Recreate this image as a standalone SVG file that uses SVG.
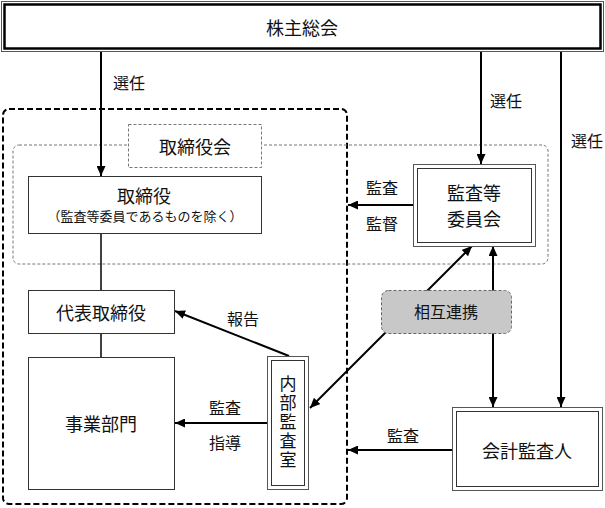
<svg xmlns="http://www.w3.org/2000/svg" width="605" height="508" viewBox="0 0 605 508">
<style>
text{font-family:"Noto Sans CJK JP","Noto Sans CJK SC",sans-serif;fill:#111;text-anchor:middle;dominant-baseline:central}
.box{fill:#fff;stroke:#333;stroke-width:1}
.outer{fill:#fff;stroke:#555;stroke-width:1}
.inner{fill:none;stroke:#333;stroke-width:1}
.conn{fill:none;stroke:#000;stroke-width:2}
.thin{fill:none;stroke:#000;stroke-width:1.5}
.lbl{font-size:16px}
.big{font-size:18px}
</style>
<defs>
<marker id="ah" markerUnits="userSpaceOnUse" markerWidth="10" markerHeight="9" refX="10" refY="4.5" orient="auto-start-reverse">
<path d="M0,0 L10,4.5 L0,9 z" fill="#000"/>
</marker>
</defs>

<g id="containers">
<rect id="group-board" x="3" y="109" width="344" height="395" rx="6" fill="none" stroke="#000" stroke-width="2" stroke-dasharray="6 3"/>
<rect id="group-boardmeeting" x="13" y="145" width="535" height="119" rx="6" fill="none" stroke="#777" stroke-width="1" stroke-dasharray="3 2"/>
</g>

<g id="connectors">
<line class="conn" x1="101" y1="52" x2="101" y2="176" marker-end="url(#ah)"/>
<line class="conn" x1="481" y1="52" x2="481" y2="164" marker-end="url(#ah)"/>
<line class="conn" x1="561" y1="52" x2="561" y2="407" marker-end="url(#ah)"/>
<line class="thin" x1="101" y1="233" x2="101" y2="290"/>
<line class="thin" x1="101" y1="333" x2="101" y2="357"/>
<line class="conn" x1="413" y1="205" x2="348" y2="205" marker-end="url(#ah)"/>
<line class="conn" x1="289" y1="356" x2="175" y2="311" marker-end="url(#ah)"/>
<line class="conn" x1="267" y1="423" x2="175" y2="423" marker-end="url(#ah)"/>
<line class="conn" x1="310" y1="408" x2="472" y2="246" marker-start="url(#ah)" marker-end="url(#ah)"/>
<line class="conn" x1="493" y1="246" x2="493" y2="407" marker-start="url(#ah)" marker-end="url(#ah)"/>
<line class="conn" x1="452" y1="450" x2="348" y2="450" marker-end="url(#ah)"/>
<text class="lbl" x="129" y="82">選任</text>
<text class="lbl" x="506" y="100">選任</text>
<text class="lbl" x="587" y="140">選任</text>
<text class="lbl" x="382" y="187">監査</text>
<text class="lbl" x="382" y="223">監督</text>
<text class="lbl" x="243" y="318">報告</text>
<text class="lbl" x="225" y="407">監査</text>
<text class="lbl" x="225" y="442">指導</text>
<text class="lbl" x="403" y="435">監査</text>
</g>

<g id="shareholders">
<rect x="1.5" y="1.5" width="602" height="50" fill="#fff" stroke="#555" stroke-width="1"/>
<rect x="4.5" y="4.5" width="596" height="44" fill="none" stroke="#000" stroke-width="2.5"/>
<text class="big" x="302" y="27">株主総会</text>
</g>

<g id="board-label">
<rect x="128.5" y="124.5" width="133" height="43" fill="#fff" stroke="#777" stroke-width="1" stroke-dasharray="3 2"/>
<text class="big" x="195" y="146">取締役会</text>
</g>

<g id="directors">
<rect class="box" x="28.5" y="176.5" width="233" height="57"/>
<text class="big" x="144" y="195">取締役</text>
<text x="145" y="215" font-size="13">（監査等委員であるものを除く）</text>
</g>

<g id="audit-committee">
<rect class="outer" x="413.5" y="164.5" width="122" height="82"/>
<rect class="inner" x="417.5" y="168.5" width="114" height="74"/>
<text class="big" x="474" y="192">監査等</text>
<text class="big" x="474" y="218">委員会</text>
</g>

<g id="representative">
<rect class="box" x="28.5" y="290.5" width="146" height="43"/>
<text class="big" x="101" y="312">代表取締役</text>
</g>

<g id="business">
<rect class="box" x="28.5" y="357.5" width="146" height="132"/>
<text class="big" x="101" y="423">事業部門</text>
</g>

<g id="internal-audit">
<rect class="outer" x="267.5" y="356.5" width="41" height="133"/>
<rect class="inner" x="271.5" y="360.5" width="33" height="125"/>
<text x="288" y="423" font-size="17" letter-spacing="2" writing-mode="vertical-rl" style="dominant-baseline:auto">内部監査室</text>
</g>

<g id="mutual">
<rect x="381.5" y="290.5" width="130" height="43" rx="7" fill="#c8c8c8" stroke="#666" stroke-width="1" stroke-dasharray="3 2"/>
<text x="446" y="311" font-size="16">相互連携</text>
</g>

<g id="accounting-auditor">
<rect class="outer" x="452.5" y="407.5" width="150" height="83"/>
<rect class="inner" x="456.5" y="411.5" width="142" height="75"/>
<text class="big" x="527" y="450">会計監査人</text>
</g>
</svg>
